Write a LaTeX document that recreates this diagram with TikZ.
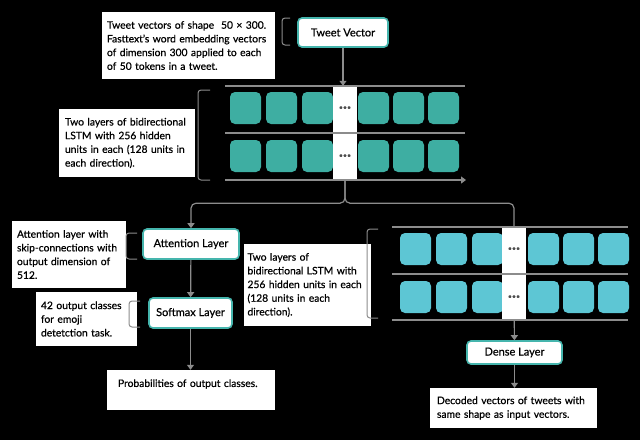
\documentclass[tikz,border=0pt]{standalone}
\usepackage{fontspec}
\setmainfont{Lato}[FakeBold=0.6]
\usetikzlibrary{arrows.meta}
\definecolor{linegray}{HTML}{8C8C8C}
\definecolor{boxteal}{HTML}{45B5AD}
\definecolor{cellteal}{HTML}{3EAEA2}
\definecolor{cellcyan}{HTML}{5DC6D4}
\tikzset{
  layer/.style={draw=boxteal, line width=1.6pt, fill=white, rounded corners=4pt,
    inner sep=0pt, font=\fontsize{11}{13}\selectfont},
  note/.style={fill=white, inner sep=0pt, align=left,
    font=\fontsize{10.3}{13.7}\selectfont},
  link/.style={draw=linegray, line width=1.2pt},
  conn/.style={link, -{Triangle[width=7pt,length=5pt]}},
  bracket/.style={draw=linegray, line width=1pt, rounded corners=3pt},
  dotsbox/.style={fill=white, inner sep=0pt, minimum width=24pt},
  dotmark/.style={text=black!70, inner sep=0pt, font=\fontsize{7}{7}\selectfont}
}
\begin{document}
\begin{tikzpicture}[x=1pt, y=-1pt]
\fill[black] (0,0) rectangle (640,440);
\useasboundingbox (0,0) rectangle (640,440);

% first LSTM block
\foreach \x in {230,266,302,358,393,428}
  \foreach \y in {92,140}
    \fill[cellteal, rounded corners=5pt] (\x,\y) rectangle ++(31,32);
\node[dotsbox, minimum height=94pt] (dotsA) at (345,133) {};
\node[dotmark] (dotsA1) at (345,108) {\textbullet\textbullet\textbullet};
\node[dotmark] (dotsA2) at (345,156) {\textbullet\textbullet\textbullet};
\draw[link] (225,86) -- (465,86);
\draw[link] (225,133) -- (465,133);
\draw[conn] (225,180) -- (466,180);

% second LSTM block
\foreach \x in {400,436,472,528,563,598}
  \foreach \y in {233,281}
    \fill[cellcyan, rounded corners=5pt] (\x,\y) rectangle ++(31,32);
\node[dotsbox, minimum height=93pt] (dotsB) at (514,273.5) {};
\node[dotmark] (dotsB1) at (514,249) {\textbullet\textbullet\textbullet};
\node[dotmark] (dotsB2) at (514,297) {\textbullet\textbullet\textbullet};
\draw[link] (392,227) -- (628,227);
\draw[link] (392,274) -- (628,274);
\draw[link] (392,320) -- (628,320);

% layers
\node[layer, minimum width=90pt, minimum height=29pt] (tweetvec) at (343,32.5) {Tweet Vector};
\node[layer, minimum width=96pt, minimum height=30pt] (attention) at (191,244) {Attention Layer};
\node[layer, minimum width=83pt, minimum height=30pt] (softmax) at (190.5,313) {Softmax Layer};
\node[layer, minimum width=95pt, minimum height=23pt] (dense) at (514.5,352.5) {Dense Layer};

% notes
\node[note, minimum width=173pt, minimum height=67pt, text width=163pt] (tweetnote) at (188.5,45.5)
  {Tweet vectors of shape~ 50 × 300.\\ Fasttext's word embedding vectors\\ of dimension 300 applied to each\\ of 50 tokens in a tweet.};
\node[note, minimum width=136pt, minimum height=68pt, text width=124pt] (lstmnoteA) at (127,143)
  {Two layers of bidirectional\\ LSTM with 256 hidden\\ units in each (128 units in\\ each direction).};
\node[note, minimum width=114pt, minimum height=67pt, text width=104pt] (attnote) at (69,254.5)
  {Attention layer with\\ skip-connections with\\ output dimension of\\ 512.};
\node[note, minimum width=101pt, minimum height=54pt, text width=91pt] (softnote) at (86.5,319)
  {42 output classes\\ for emoji\\ detetction task.};
\node[note, minimum width=168pt, minimum height=40pt, text width=146pt] (probnote) at (191,390)
  {Probabilities of output classes.\\ \mbox{}};
\node[note, minimum width=127pt, minimum height=82pt, text width=120pt] (lstmnoteB) at (307.5,285)
  {Two layers of\\ bidirectional LSTM with\\ 256 hidden units in each\\ (128 units in each\\ direction).};
\node[note, minimum width=167pt, minimum height=40pt, text width=153pt] (decnote) at (513.5,408)
  {Decoded vectors of tweets with\\ same shape as input vectors.};

% brackets
\draw[bracket] (290,18) -- (282,18) -- (282,45) -- (290,45);
\draw[bracket] (210,90) -- (198,90) -- (198,180) -- (210,180);
\draw[bracket] (137,233) -- (126,233) -- (126,259) -- (137,259);
\draw[bracket] (140,301) -- (129,301) -- (129,327) -- (140,327);
\draw[bracket] (378,229) -- (367,229) -- (367,318) -- (378,318);

% connectors
\draw[conn] (tweetvec.south) -- (tweetvec.south |- dotsA.north);
\draw[conn, rounded corners=5pt] (dotsA.south) -- ++(0,23) -| (attention.north);
\draw[link, rounded corners=5pt] (dotsA.south) -- ++(0,23) -| (dotsB.north);
\draw[conn] (attention) -- (softmax);
\draw[conn] (softmax.south) -- (softmax.south |- probnote.north);
\draw[conn] (dotsB) -- (dense);
\draw[conn] (dense.south) -- (dense.south |- decnote.north);
\end{tikzpicture}
\end{document}
